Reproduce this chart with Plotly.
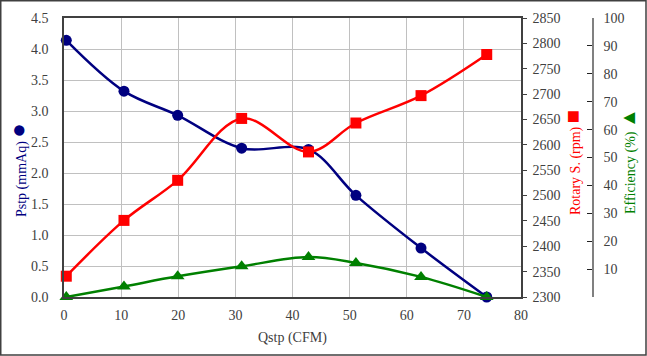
import plotly.graph_objects as go

qstp = [0.4, 10.5, 19.9, 31.1, 42.8, 51.1, 62.5, 74.0]
pstp = [4.14, 3.32, 2.93, 2.40, 2.38, 1.64, 0.79, 0.0]
rotary = [2341, 2451, 2530, 2652, 2586, 2643, 2697, 2778]
efficiency = [0.0, 3.8, 7.4, 11.0, 14.3, 12.2, 7.2, 0.0]

x_ticks = [0, 10, 20, 30, 40, 50, 60, 70, 80]
pstp_ticks = [0.0, 0.5, 1.0, 1.5, 2.0, 2.5, 3.0, 3.5, 4.0, 4.5]
rpm_ticks = list(range(2300, 2851, 50))
eff_ticks = list(range(10, 101, 10))

FONT = "Liberation Serif"
TICKC = "#404040"

W, H = 647, 356
L, R, T, B = 64, 20, 18, 59
pw = W - L - R
ph = H - T - B
xend = (521 - L) / pw
effpos = (593 - L) / pw

fig = go.Figure()
fig.add_trace(go.Scatter(x=qstp, y=pstp, mode="lines+markers", line=dict(color="#000080", width=2.5, shape="spline", smoothing=1),
                         marker=dict(symbol="circle", size=11, color="#000080"), yaxis="y", showlegend=False, cliponaxis=False))
fig.add_trace(go.Scatter(x=qstp, y=rotary, mode="lines+markers", line=dict(color="#FF0000", width=2.5, shape="spline", smoothing=1),
                         marker=dict(symbol="square", size=11, color="#FF0000"), yaxis="y2", showlegend=False, cliponaxis=False))
fig.add_trace(go.Scatter(x=qstp, y=efficiency, mode="lines+markers", line=dict(color="#008000", width=2.5, shape="spline", smoothing=1),
                         marker=dict(symbol="triangle-up", size=12, color="#008000"), yaxis="y3", showlegend=False, cliponaxis=False))

fig.update_layout(
    width=W, height=H,
    margin=dict(l=L, r=R, t=T, b=B, autoexpand=False),
    paper_bgcolor="white", plot_bgcolor="white",
    font=dict(family=FONT, size=14, color=TICKC),
    xaxis=dict(domain=[0, xend], range=[0, 80], tickvals=x_ticks, showgrid=True, gridcolor="#c0c0c0", gridwidth=1,
               showline=True, linecolor="#404040", linewidth=1.5, mirror=True, ticks="", ticklabelstandoff=4,
               zeroline=False, automargin=False, tickfont=dict(family=FONT, size=14, color=TICKC)),
    yaxis=dict(range=[0, 4.5], tickvals=pstp_ticks, tickformat=".1f", showgrid=True, gridcolor="#c0c0c0", gridwidth=1,
               showline=True, linecolor="#404040", linewidth=1.5, ticks="", ticklabelstandoff=11, zeroline=False,
               automargin=False, tickfont=dict(family=FONT, size=14, color=TICKC)),
    yaxis2=dict(range=[2300, 2850], tickvals=rpm_ticks, overlaying="y", side="right", anchor="x", showgrid=False,
                showline=True, linecolor="#404040", linewidth=1.5, ticks="outside", ticklen=4, tickcolor="#404040",
                ticklabelstandoff=3, zeroline=False, automargin=False, tickfont=dict(family=FONT, size=14, color=TICKC)),
    yaxis3=dict(range=[0, 100], tickvals=eff_ticks, overlaying="y", side="right", anchor="free", position=effpos,
                showgrid=False, showline=True, linecolor="#808080", linewidth=1.5, ticks="inside", ticklen=5,
                tickcolor="#202020", ticklabelstandoff=7, zeroline=False, automargin=False,
                tickfont=dict(family=FONT, size=14, color=TICKC)),
)

def px_x(p):
    return (p - L) / pw

def px_y(p):
    return (H - B - p) / ph

annos = [
    dict(text="Pstp (mmAq) <span style='font-size:24px'>●</span>", x=px_x(18), y=px_y(170), color="#000080"),
    dict(text="Rotary S. (rpm) <span style='font-size:22px'>■</span>", x=px_x(572), y=px_y(163), color="#FF0000"),
    dict(text="Efficiency (%) <span style='font-size:20px'>▲</span>", x=px_x(628), y=px_y(161), color="#008000"),
]
for a in annos:
    fig.add_annotation(text=a["text"], x=a["x"], y=a["y"], xref="paper", yref="paper", textangle=-90,
                       showarrow=False, xanchor="center", yanchor="middle",
                       font=dict(family=FONT, size=14, color=a["color"]))

fig.add_annotation(text="Qstp (CFM)", x=px_x(292.5), y=px_y(338), xref="paper", yref="paper", showarrow=False,
                   xanchor="center", yanchor="middle", font=dict(family=FONT, size=14, color=TICKC))

fig.add_shape(type="rect", xref="paper", yref="paper", x0=px_x(0.75), x1=px_x(W - 1), y0=px_y(H - 1), y1=px_y(0.75),
              line=dict(color="#404040", width=1.5), fillcolor="rgba(0,0,0,0)", layer="above")

fig.write_html("out.html", config={"displayModeBar": False},
               post_script="document.body.style.margin='0px';document.body.style.overflow='hidden';")
